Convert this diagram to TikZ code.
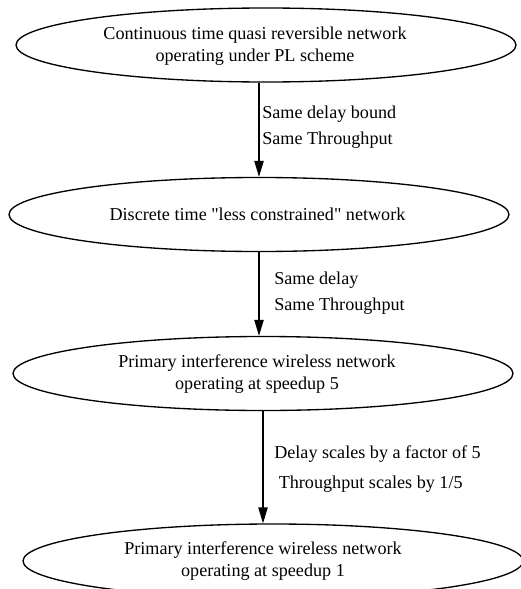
\documentclass[tikz,border=0pt]{standalone}
\usepackage{fontspec}
\setmainfont{Liberation Serif}
\usetikzlibrary{shapes.geometric,arrows.meta}

\tikzset{
  netnode/.style={draw,ellipse,line width=1pt,minimum width=375pt,minimum height=55.5pt,inner sep=0pt},
  nettext/.style={align=center,font=\fontsize{13.6}{16.5}\selectfont,inner sep=0pt},
  edgetext/.style={align=left,anchor=west,font=\fontsize{13.6}{19.5}\selectfont,inner sep=0pt},
  flow/.style={line width=1pt,-{Triangle[length=12pt,width=7pt]}}
}

\begin{document}
\begin{tikzpicture}[x=0.75pt,y=-0.75pt]
\path[use as bounding box,clip] (0,0) rectangle (521,589);

% the four networks
\node[netnode] (cont) at (266,45) {};
\node[nettext] (cont-t) at (255,46) {Continuous time quasi reversible network\\operating under PL scheme};

\node[netnode] (disc) at (259,214.5) {};
\node[nettext] (disc-t) at (257.5,214.5) {Discrete time \textquotedbl less constrained\textquotedbl\ network};

\node[netnode] (prim5) at (263,373.5) {};
\node[nettext] (prim5-t) at (257,374) {Primary interference wireless network\\operating at speedup 5};

\node[netnode] (prim1) at (273,561) {};
\node[nettext] (prim1-t) at (263,561.5) {Primary interference wireless network\\operating at speedup 1};

% arrows
\draw[flow] (disc.north |- cont.south) -- (disc.north);
\draw[flow] (disc.south) -- (disc.south |- prim5.north);
\draw[flow] (prim5.south) -- (prim5.south |- prim1.north);

% edge labels
\node[edgetext] (l1) at (262,127) {Same delay bound\\Same Throughput};
\node[edgetext] (l2) at (274,293) {Same delay\\Same Throughput};
\node[edgetext] (l3) at (274,469) {Delay scales by a factor of 5\\[3pt]\ Throughput scales by 1/5};

\end{tikzpicture}
\end{document}
